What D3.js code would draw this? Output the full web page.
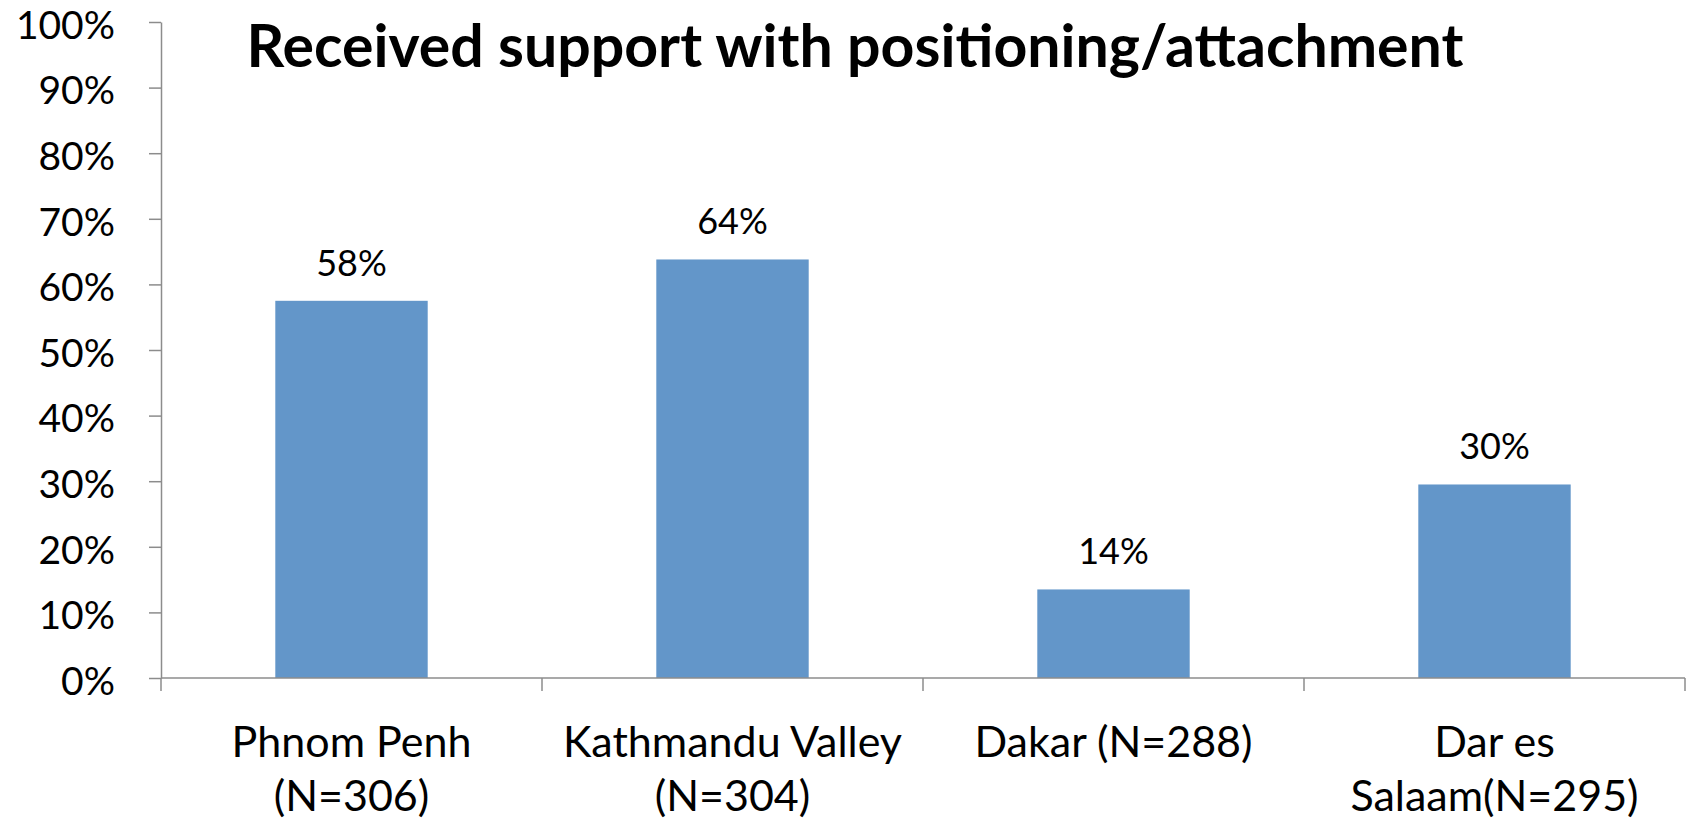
<!DOCTYPE html>
<html>
<head>
<meta charset="utf-8">
<script src="https://cdn.jsdelivr.net/npm/d3@7"></script>
<style>
  html, body { margin: 0; padding: 0; background: #fff; }
  svg { display: block; font-family: Lato, "Noto Sans", sans-serif; }
</style>
</head>
<body>
<svg id="chart" width="1692" height="820"></svg>
<script>
const title = 'Received support with positioning/attachment';
const categories = ['Phnom Penh (N=306)', 'Kathmandu Valley (N=304)', 'Dakar (N=288)', 'Dar es Salaam(N=295)'];
const categoryLines = [['Phnom Penh', '(N=306)'], ['Kathmandu Valley', '(N=304)'], ['Dakar (N=288)'], ['Dar es', 'Salaam(N=295)']];
const values = [0.575, 0.638, 0.135, 0.295];
const valueLabels = ['58%', '64%', '14%', '30%'];
const yTicks = [0, 0.1, 0.2, 0.3, 0.4, 0.5, 0.6, 0.7, 0.8, 0.9, 1];

const svg = d3.select('#chart');
const margin = { left: 161, right: 7, top: 22, bottom: 142 };
const width = 1692, height = 820;
const axisColor = '#8c8c8c';

const x = d3.scaleBand()
  .domain(categories)
  .range([margin.left, width - margin.right])
  .paddingInner(0.6)
  .paddingOuter(0.3);

const y = d3.scaleLinear()
  .domain([0, 1])
  .range([height - margin.bottom, margin.top]);

// y axis
const yAxis = svg.append('g')
  .attr('transform', `translate(${margin.left},0)`)
  .call(d3.axisLeft(y).tickValues(yTicks).tickSize(12).tickSizeOuter(0)
    .tickFormat(d3.format('.0%')));
yAxis.selectAll('path, line').attr('stroke', axisColor).attr('stroke-width', 1.5);
yAxis.selectAll('text')
  .attr('x', -46)
  .attr('dy', '0.42em')
  .attr('fill', '#000')
  .attr('font-size', 39)
  .attr('font-family', 'Lato, sans-serif');

// bars
svg.append('g')
  .selectAll('rect')
  .data(values)
  .join('rect')
  .attr('x', (d, i) => x(categories[i]))
  .attr('y', (d) => y(d))
  .attr('width', x.bandwidth())
  .attr('height', (d) => y(0) - y(d))
  .attr('fill', '#6396c9');

// value labels
svg.append('g')
  .selectAll('text')
  .data(values)
  .join('text')
  .attr('x', (d, i) => x(categories[i]) + x.bandwidth() / 2)
  .attr('y', (d) => y(d) - 25)
  .attr('text-anchor', 'middle')
  .attr('font-size', 36)
  .attr('fill', '#000')
  .text((d, i) => valueLabels[i]);

// x axis line and boundary ticks
const base = y(0);
const bounds = categories.map((c) => x(c) - x.step() * x.paddingOuter());
bounds.push(width - margin.right);
svg.append('line')
  .attr('x1', margin.left).attr('x2', width - margin.right)
  .attr('y1', base).attr('y2', base)
  .attr('stroke', axisColor).attr('stroke-width', 1.5);
svg.append('g')
  .selectAll('line')
  .data(bounds)
  .join('line')
  .attr('x1', (d) => d).attr('x2', (d) => d)
  .attr('y1', base).attr('y2', base + 13)
  .attr('stroke', axisColor).attr('stroke-width', 1.5);

// category labels
const catG = svg.append('g')
  .selectAll('text')
  .data(categories)
  .join('text')
  .attr('text-anchor', 'middle')
  .attr('font-size', 43)
  .attr('fill', '#000');
catG.each(function (c, i) {
  const t = d3.select(this);
  categoryLines[i].forEach((line, j) => {
    t.append('tspan')
      .attr('x', x(c) + x.bandwidth() / 2)
      .attr('y', base + 79 + j * 54)
      .text(line);
  });
});

// title
svg.append('text')
  .attr('x', 855)
  .attr('y', 67)
  .attr('text-anchor', 'middle')
  .attr('font-size', 59)
  .attr('font-weight', 'bold')
  .attr('fill', '#000')
  .text(title);
</script>
</body>
</html>
